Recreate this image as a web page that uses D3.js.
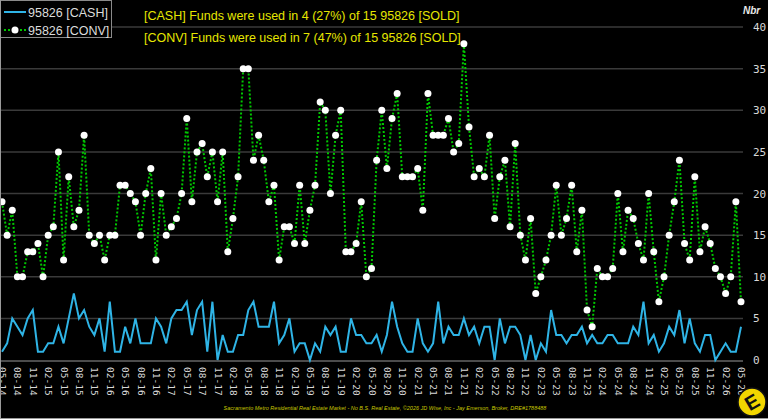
<!DOCTYPE html>
<html lang="en">
<head>
  <meta charset="UTF-8" />
  <title>95826 Cash vs Conventional</title>
  <script src="https://d3js.org/d3.v7.min.js"></script>
  <style>
    body {
      margin: 0;
      background: #000;
    }
    svg {
      display: block;
      background: #000;
    }
  </style>
</head>
<body>

<svg width="768" height="419"></svg>

<script>
// monthly counts, 05-14 .. 05-26
const cash = [
  1,2,5,4,3,5,6,1,1,2, 2,4,2,5,8,5,6,4,3,5,
  1,7,1,1,4,2,5,2,2,2, 5,4,2,5,6,6,7,3,6,7,
  1,7,0,3,1,1,3,3,6,7, 4,4,4,7,2,3,5,1,2,2,
  0,2,1,4,3,4,1,1,5,3, 3,2,2,3,1,3,7,4,2,1,
  1,5,2,1,2,7,2,4,3,3, 5,3,4,2,4,4,0,5,2,4,
  4,3,0,3,0,2,1,6,3,3, 2,3,3,4,2,3,2,2,3,3,
  2,2,2,4,3,7,2,3,1,2, 4,3,6,2,5,2,1,3,3,0,
  1,2,1,1,4
];
const conv = [
  19,15,18,10,10,13,13,14,10,15, 16,25,12,22,16,18,27,15,14,15,
  12,15,15,21,21,20,19,15,20,23, 12,20,15,16,17,20,29,19,25,26,
  22,25,19,25,13,17,22,35,35,24, 27,24,19,21,12,16,16,14,21,14,
  18,21,31,30,20,27,30,13,13,14, 19,10,11,24,30,23,29,32,22,22,
  22,23,18,32,27,27,27,29,25,26, 38,28,22,23,22,27,17,22,24,16,
  26,15,12,17,8,10,12,15,21,15, 17,21,13,18,6,4,11,10,10,11,
  20,13,18,17,14,12,20,13,7,10, 15,19,24,14,12,22,13,16,14,11,
  10,8,10,19,7
];
const tickLabels = [
  "05-14","08-14","11-14","02-15","05-15","08-15","11-15","02-16","05-16","08-16",
  "11-16","02-17","05-17","08-17","11-17","02-18","05-18","08-18","11-18","02-19",
  "05-19","08-19","11-19","02-20","05-20","08-20","11-20","02-21","05-21","08-21",
  "11-21","02-22","05-22","08-22","11-22","02-23","05-23","08-23","11-23","02-24",
  "05-24","08-24","11-24","02-25","05-25","08-25","11-25","02-26","05-26"
];
const yTicks = [0, 5, 10, 15, 20, 25, 30, 35, 40];
const seriesNames = ["95826 [CASH]", "95826 [CONV]"];
const notes = [
  "[CASH] Funds were used in 4 (27%) of 15 95826 [SOLD]",
  "[CONV] Funds were used in 7 (47%) of 15 95826 [SOLD]"
];
const footer = "Sacramento Metro Residential Real Estate Market - No B.S. Real Estate, \u00a92026 JD Wise, Inc - Jay Emerson, Broker, DRE#1788488";

const months = d3.range(cash.length);

const svg = d3.select("svg");
const W = 768, H = 419;

const x = d3.scalePoint().domain(months).range([2, 741]);
const y = d3.scaleLinear().domain([0, 40]).range([360, 27]);

// grid
svg.append("g")
  .selectAll("line")
  .data(yTicks.slice(1))
  .enter().append("line")
  .attr("x1", 0).attr("x2", 743)
  .attr("y1", d => y(d)).attr("y2", d => y(d))
  .attr("stroke", "#3a3a3a")
  .attr("stroke-width", 1.5);

// x axis line
svg.append("line")
  .attr("x1", 0).attr("x2", 743)
  .attr("y1", y(0) + 1).attr("y2", y(0) + 1)
  .attr("stroke", "#666").attr("stroke-width", 1.5);

// y tick labels (right)
svg.append("g")
  .selectAll("text")
  .data(yTicks)
  .enter().append("text")
  .attr("x", 753)
  .attr("y", d => y(d) + 4)
  .attr("fill", "#d8d8d8")
  .style("font", "11px 'DejaVu Sans Mono', monospace")
  .text(d => d);

svg.append("text")
  .attr("x", 743).attr("y", 14)
  .attr("fill", "#e8e8e8")
  .style("font", "italic bold 10px 'Liberation Sans', Arial, sans-serif")
  .text("Nbr");

// x tick labels, rotated
svg.append("g")
  .selectAll("text")
  .data(tickLabels)
  .enter().append("text")
  .attr("transform", (d, i) => `translate(${x(i * 3) - 3},367) rotate(90)`)
  .attr("fill", "#d8d8d8")
  .style("font", "9.5px 'DejaVu Sans Mono', monospace")
  .text(d => d);

// cash line
svg.append("path")
  .datum(cash)
  .attr("fill", "none")
  .attr("stroke", "#2fb4e6")
  .attr("stroke-width", 2)
  .attr("d", d3.line().x((d, i) => x(i)).y(d => y(d)));

// conv line
svg.append("path")
  .datum(conv)
  .attr("fill", "none")
  .attr("stroke", "#00c800")
  .attr("stroke-width", 2)
  .attr("stroke-dasharray", "2,2")
  .attr("d", d3.line().x((d, i) => x(i)).y(d => y(d)));

svg.append("g")
  .selectAll("circle")
  .data(conv)
  .enter().append("circle")
  .attr("cx", (d, i) => x(i))
  .attr("cy", d => y(d))
  .attr("r", 3.5)
  .attr("fill", "#fff");

// legend
const lg = svg.append("g");
lg.append("rect")
  .attr("x", 0.5).attr("y", 0.5).attr("width", 111).attr("height", 37)
  .attr("fill", "#000").attr("stroke", "#8a8a8a");
lg.append("line").attr("x1", 4).attr("x2", 26).attr("y1", 12).attr("y2", 12)
  .attr("stroke", "#2fb4e6").attr("stroke-width", 2);
lg.append("line").attr("x1", 4).attr("x2", 26).attr("y1", 30).attr("y2", 30)
  .attr("stroke", "#00c800").attr("stroke-width", 2).attr("stroke-dasharray", "2,2");
lg.append("circle").attr("cx", 15).attr("cy", 30).attr("r", 3.5).attr("fill", "#fff");
lg.selectAll("text")
  .data(seriesNames)
  .enter().append("text")
  .attr("x", 28)
  .attr("y", (d, i) => 17 + i * 18)
  .attr("fill", "#dcdcdc")
  .style("font", "12.5px 'Liberation Sans', Arial, sans-serif")
  .text(d => d);

// notes
svg.append("g")
  .selectAll("text")
  .data(notes)
  .enter().append("text")
  .attr("x", 144)
  .attr("y", (d, i) => 20 + i * 22)
  .attr("fill", "#e6e600")
  .style("font", "12.5px 'Liberation Sans', Arial, sans-serif")
  .text(d => d);

// footer
svg.append("text")
  .attr("x", 385).attr("y", 410)
  .attr("text-anchor", "middle")
  .attr("fill", "#c8c800")
  .style("font", "italic 5.5px 'Liberation Sans', Arial, sans-serif")
  .text(footer);

// logo
const logo = svg.append("g").attr("transform", "translate(752,402)");
logo.append("circle").attr("r", 14).attr("fill", "#f2d600").attr("stroke", "#111").attr("stroke-width", 1.5);
logo.append("text")
  .attr("text-anchor", "middle").attr("y", 7)
  .attr("transform", "rotate(-30)")
  .attr("fill", "#111")
  .style("font", "bold 20px 'Liberation Sans', Arial, sans-serif")
  .text("E");

// frame edges
svg.append("line").attr("x1", 0.5).attr("x2", 0.5).attr("y1", 0).attr("y2", H)
  .attr("stroke", "#9a9a9a");
svg.append("line").attr("x1", 0).attr("x2", W).attr("y1", H - 0.5).attr("y2", H - 0.5)
  .attr("stroke", "#9a9a9a");
</script>

</body>
</html>
